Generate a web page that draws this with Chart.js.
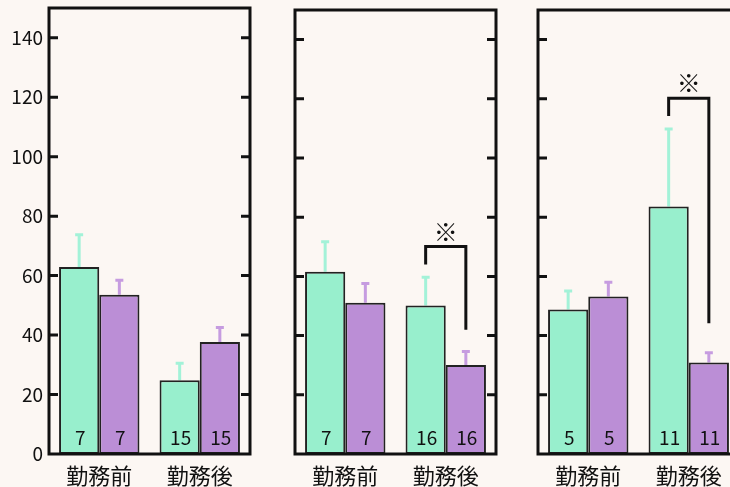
<!DOCTYPE html>
<html>
<head>
<meta charset="utf-8">
<script src="https://cdn.jsdelivr.net/npm/chart.js@4/dist/chart.umd.min.js"></script>
<style>
  html, body { margin: 0; padding: 0; background: #fcf7f3; overflow: hidden; width: 730px; height: 487px; }
  .panel { position: absolute; top: 0; }
</style>
</head>
<body>
<canvas class="panel" id="c0" width="260" height="487" style="left:0px"></canvas>
<canvas class="panel" id="c1" width="260" height="487" style="left:246px"></canvas>
<canvas class="panel" id="c2" width="260" height="487" style="left:489px"></canvas>
<script>
// Categories and y-axis ticks shared by all three panels
const categories = ['勤務前', '勤務後'];
const yTicks = [0, 20, 40, 60, 80, 100, 120, 140];

// Means and SD (one row per panel: [勤務前, 勤務後])
const greenMean = [[62.9, 24.8], [61.6, 50.2], [48.8, 83.6]];
const greenSD   = [[11.0, 5.9], [10.3, 9.7], [6.4, 26.4]];
const purpleMean = [[53.6, 37.7], [51.1, 30.1], [53.2, 30.9]];
const purpleSD   = [[5.0, 5.0], [6.7, 4.7], [5.0, 3.5]];

// Sample sizes written inside the bars
const sampleN = [[7, 15], [7, 16], [5, 11]];

// Significance brackets: [category index, left end, top, right end]
const brackets = [[], [[1, 64.0, 70.1, 42.0]], [[1, 114.2, 120.2, 44.2]]];

const FONT = '"Noto Sans CJK JP", "Noto Sans", sans-serif';
const GREEN = '#98efcd', PURPLE = '#bb8ed6';
const GREEN_ERR = '#a3f2d8', PURPLE_ERR = '#c69ce0';
const panelTop = [8, 10, 10];

function makePanel(idx) {
  const errors = [greenSD[idx], purpleSD[idx]];
  const errColors = [GREEN_ERR, PURPLE_ERR];

  const errorBars = {
    id: 'errorBars',
    beforeDatasetsDraw(chart) {
      const ctx = chart.ctx, y = chart.scales.y;
      ctx.save();
      ctx.lineWidth = 3;
      chart.data.datasets.forEach((ds, d) => {
        const meta = chart.getDatasetMeta(d);
        meta.data.forEach((bar, i) => {
          const top = y.getPixelForValue(ds.data[i] + errors[d][i]);
          const base = y.getPixelForValue(ds.data[i]);
          ctx.strokeStyle = errColors[d];
          ctx.beginPath();
          ctx.moveTo(bar.x, base);
          ctx.lineTo(bar.x, top);
          ctx.moveTo(bar.x - 4, top + 0.5);
          ctx.lineTo(bar.x + 4, top + 0.5);
          ctx.stroke();
        });
      });
      ctx.restore();
    }
  };

  const annotations = {
    id: 'annotations',
    afterDatasetsDraw(chart) {
      const ctx = chart.ctx, y = chart.scales.y, area = chart.chartArea;
      ctx.save();
      // sample sizes
      ctx.fillStyle = '#111';
      ctx.font = '19px ' + FONT;
      ctx.textAlign = 'center';
      ctx.textBaseline = 'alphabetic';
      chart.data.datasets.forEach((ds, d) => {
        chart.getDatasetMeta(d).data.forEach((bar, i) => {
          ctx.fillText(String(sampleN[idx][i]), bar.x + 1, area.bottom - 9);
        });
      });
      // significance brackets
      ctx.strokeStyle = '#111';
      ctx.lineWidth = 3;
      ctx.lineJoin = 'miter';
      brackets[idx].forEach(([cat, left, top, right]) => {
        const xL = chart.getDatasetMeta(0).data[cat].x;
        const xR = chart.getDatasetMeta(1).data[cat].x;
        const yT = y.getPixelForValue(top);
        ctx.beginPath();
        ctx.moveTo(xL, y.getPixelForValue(left));
        ctx.lineTo(xL, yT);
        ctx.lineTo(xR, yT);
        ctx.lineTo(xR, y.getPixelForValue(right));
        ctx.stroke();
        ctx.font = '24px ' + FONT;
        ctx.textBaseline = 'middle';
        ctx.fillText('※', (xL + xR) / 2, yT - 15);
      });
      ctx.restore();
    },
    afterDraw(chart) {
      // boxed frame with inward tick marks on both sides
      const ctx = chart.ctx, y = chart.scales.y, a = chart.chartArea;
      ctx.save();
      ctx.strokeStyle = '#111';
      ctx.lineWidth = 3;
      ctx.strokeRect(a.left, a.top, a.right - a.left, a.bottom - a.top);
      ctx.beginPath();
      yTicks.forEach(v => {
        if (v === 0) return;
        const py = y.getPixelForValue(v);
        ctx.moveTo(a.left, py); ctx.lineTo(a.left + 9, py);
        ctx.moveTo(a.right, py); ctx.lineTo(a.right - 9, py);
      });
      ctx.stroke();
      ctx.restore();
    }
  };

  return new Chart(document.getElementById('c' + idx), {
    type: 'bar',
    data: {
      labels: categories,
      datasets: [
        { data: greenMean[idx], backgroundColor: GREEN, borderColor: '#222', borderWidth: 2, borderSkipped: false },
        { data: purpleMean[idx], backgroundColor: PURPLE, borderColor: '#222', borderWidth: 2, borderSkipped: false }
      ]
    },
    options: {
      responsive: false,
      animation: false,
      devicePixelRatio: 1,
      layout: { padding: { top: panelTop[idx], right: 10, left: 0, bottom: 0 } },
      plugins: { legend: { display: false }, tooltip: { enabled: false } },
      datasets: { bar: { categoryPercentage: 0.8, barPercentage: 1.0 } },
      scales: {
        x: {
          grid: { display: false, drawTicks: false },
          border: { display: false },
          ticks: { color: '#111', font: { family: FONT, size: 22 }, padding: 8, maxRotation: 0 },
          afterFit(s) { s.height = 33; s.paddingLeft = 0; s.paddingRight = 0; }
        },
        y: {
          min: 0, max: 150,
          grid: { display: false, drawTicks: false },
          border: { display: false },
          ticks: { display: idx === 0, color: '#111', font: { family: FONT, size: 19 }, padding: 6 },
          afterBuildTicks(s) { s.ticks = yTicks.map(v => ({ value: v })); },
          afterFit(s) { s.width = 49; s.paddingTop = 0; s.paddingBottom = 0; }
        }
      }
    },
    plugins: [errorBars, annotations]
  });
}

[0, 1, 2].forEach(makePanel);
</script>
</body>
</html>
